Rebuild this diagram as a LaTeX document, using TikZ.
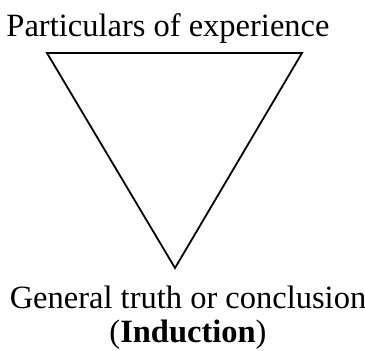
\documentclass[tikz,border=0pt]{standalone}
\usepackage{fontspec}
\setmainfont{Liberation Serif}
\begin{document}
\begin{tikzpicture}[x=1pt,y=-1pt,
  lbl/.style={inner sep=0pt, font=\fontsize{32.5}{38}\selectfont},
  tri/.style={draw=black, line width=1.8pt, line join=miter}]
\useasboundingbox (0,0) rectangle (365,351);
\coordinate (tl) at (47,53);
\coordinate (tr) at (302,53);
\coordinate (bt) at (175,268);
\draw[tri] (tl) -- (tr) -- (bt) -- cycle;
\node[lbl, anchor=base] (top) at (168,36) {Particulars of experience};
\node[lbl, anchor=base] (gen) at (188,308) {General truth or conclusion};
\node[lbl, anchor=base] (ind) at (188,342) {(\textbf{Induction})};
\end{tikzpicture}
\end{document}
